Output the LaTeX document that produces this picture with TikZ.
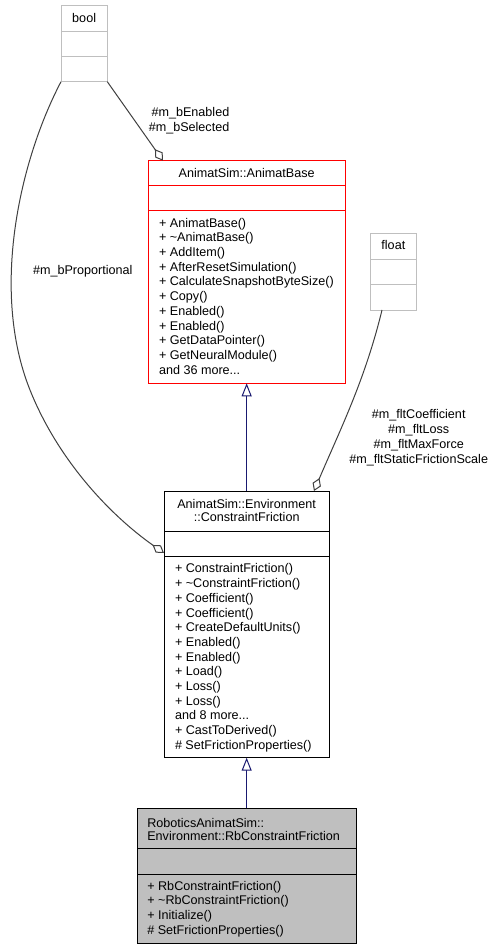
\documentclass[tikz,border=0pt]{standalone}
\usepackage{fontspec}
\setmainfont{Liberation Sans}
\usetikzlibrary{arrows.meta,calc}
\definecolor{aggr}{HTML}{404040}
\definecolor{inh}{HTML}{191970}
\definecolor{lightbd}{HTML}{BFBFBF}
\definecolor{rbfill}{HTML}{BFBFBF}
\begin{document}
\begin{tikzpicture}[x=1pt,y={(0,-1pt)},
  ft/.style={font=\fontsize{12.6}{14.7}\selectfont, inner sep=0pt, outer sep=0pt},
  members/.style={ft, align=left, anchor=north west},
  cls/.style={draw, line width=1pt, anchor=north west, inner sep=0pt, outer sep=0pt},
  graycls/.style={cls, draw=lightbd, fill=white},
  sep/.style={line width=1pt},
  inherit/.style={draw=inh, line width=1pt, -{Triangle[open,length=13pt,width=10pt,fill=white]}},
  aggreg/.style={draw=aggr, line width=1pt, -{Diamond[open,length=14pt,width=9pt,fill=white]}}
]
\useasboundingbox (0,0) rectangle (496,949);
\fill[white] (0,0) rectangle (496,949);

% bool
\node[graycls, minimum width=46.3pt, minimum height=76pt] (bool) at (61,5.7) {};
\draw[sep, lightbd] ($(bool.north west)+(0,25.6)$) -- ($(bool.north east)+(0,25.6)$);
\draw[sep, lightbd] ($(bool.north west)+(0,51)$) -- ($(bool.north east)+(0,51)$);
\node[ft, anchor=base] (booltitle) at ($(bool.north)+(0,17)$) {bool};

% float
\node[graycls, minimum width=46.7pt, minimum height=76.7pt] (float) at (370,233.3) {};
\draw[sep, lightbd] ($(float.north west)+(0,26)$) -- ($(float.north east)+(0,26)$);
\draw[sep, lightbd] ($(float.north west)+(0,51.4)$) -- ($(float.north east)+(0,51.4)$);
\node[ft, anchor=base] (floattitle) at ($(float.north)+(0,16.7)$) {float};

% AnimatBase
\node[cls, draw=red, fill=white, minimum width=197.3pt, minimum height=222.6pt] (ab) at (148,160.7) {};
\draw[sep, red] ($(ab.north west)+(0,25)$) -- ($(ab.north east)+(0,25)$);
\draw[sep, red] ($(ab.north west)+(0,50.3)$) -- ($(ab.north east)+(0,50.3)$);
\node[ft, anchor=base] (abtitle) at ($(ab.north)+(0,16.6)$) {AnimatSim::AnimatBase};
\node[members] (abmem) at ($(ab.north west)+(11,56.2)$) {\strut+ AnimatBase()\\
\strut+ \textasciitilde AnimatBase()\\
\strut+ AddItem()\\
\strut+ AfterResetSimulation()\\
\strut+ CalculateSnapshotByteSize()\\
\strut+ Copy()\\
\strut+ Enabled()\\
\strut+ Enabled()\\
\strut+ GetDataPointer()\\
\strut+ GetNeuralModule()\\
\strut and 36 more...};

% ConstraintFriction
\node[cls, fill=white, minimum width=165.3pt, minimum height=266.7pt] (cf) at (164,491) {};
\draw[sep] ($(cf.north west)+(0,40)$) -- ($(cf.north east)+(0,40)$);
\draw[sep] ($(cf.north west)+(0,65.3)$) -- ($(cf.north east)+(0,65.3)$);
\node[ft, font=\fontsize{12.6}{13.4}\selectfont, align=center, anchor=north] (cftitle) at ($(cf.north)+(0,7.9)$) {\strut AnimatSim::Environment\\\strut ::ConstraintFriction};
\node[members] (cfmem) at ($(cf.north west)+(11,71.7)$) {\strut+ ConstraintFriction()\\
\strut+ \textasciitilde ConstraintFriction()\\
\strut+ Coefficient()\\
\strut+ Coefficient()\\
\strut+ CreateDefaultUnits()\\
\strut+ Enabled()\\
\strut+ Enabled()\\
\strut+ Load()\\
\strut+ Loss()\\
\strut+ Loss()\\
\strut and 8 more...\\
\strut+ CastToDerived()\\
\strut\# SetFrictionProperties()};

% RbConstraintFriction
\node[cls, fill=rbfill, minimum width=218.7pt, minimum height=135pt] (rb) at (137.3,808.3) {};
\draw[sep] ($(rb.north west)+(0,40)$) -- ($(rb.north east)+(0,40)$);
\draw[sep] ($(rb.north west)+(0,65.7)$) -- ($(rb.north east)+(0,65.7)$);
\node[ft, font=\fontsize{12.6}{12.6}\selectfont, align=left, anchor=north west] (rbtitle) at ($(rb.north west)+(10,9.6)$) {\strut RoboticsAnimatSim::\\\strut Environment::RbConstraintFriction};
\node[members] (rbmem) at ($(rb.north west)+(10,71.4)$) {\strut+ RbConstraintFriction()\\
\strut+ \textasciitilde RbConstraintFriction()\\
\strut+ Initialize()\\
\strut\# SetFrictionProperties()};

% inheritance
\draw[inherit] (cf.north) -- (ab.south);
\draw[inherit] (rb.north) -- (cf.north |- rb.north) -- (cf.south);

% aggregation
\draw[aggreg] (bool.south east) -- ($(ab.north west)+(15,0)$);
\draw[aggreg] (bool.south west) .. controls (20,160) and (-10,290) .. (30,390) .. controls (58,460) and (110,515) .. ($(cf.north west)+(0,62)$);
\draw[aggreg] ($(float.south west)+(12,0)$) .. controls (365,380) and (340,430) .. ($(cf.north west)+(150,0)$);

% labels
\node[ft, align=right, anchor=north east] (lblen) at (229.3,106.2) {\strut\#m\_bEnabled\\\strut\#m\_bSelected};
\node[ft, anchor=base west] (lblprop) at (33,275) {\#m\_bProportional};
\node[ft, align=center, anchor=north] (lblflt) at (418.7,408.7) {\strut\#m\_fltCoefficient\\\strut\#m\_fltLoss\\\strut\#m\_fltMaxForce\\\strut\#m\_fltStaticFrictionScale};
\end{tikzpicture}
\end{document}
